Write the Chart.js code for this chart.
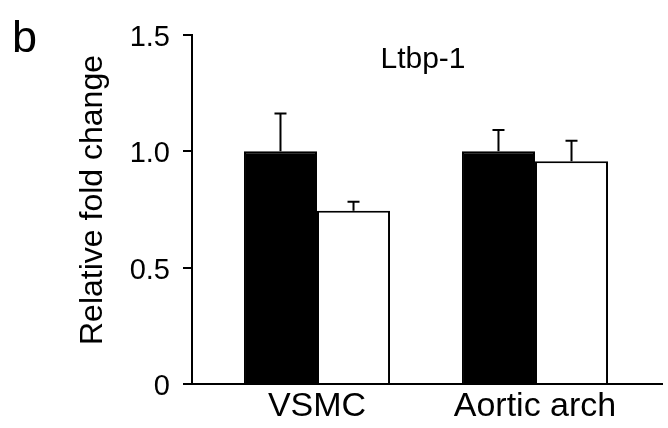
<!DOCTYPE html>
<html>
<head>
<meta charset="utf-8">
<script src="https://cdn.jsdelivr.net/npm/chart.js@4/dist/chart.umd.min.js"></script>
<style>
  html, body { margin: 0; padding: 0; background: #fff; }
  #wrap { width: 668px; height: 428px; }
</style>
</head>
<body>
<div id="wrap"><canvas id="foldChart" width="668" height="428"></canvas></div>
<script>
"use strict";

// data
var categories = ['VSMC', 'Aortic arch'];
var controlMean = [1.0, 1.0];
var controlErr = [0.163, 0.092];
var treatedMean = [0.745, 0.957];
var treatedErr = [0.038, 0.089];
var yTicks = [0, 0.5, 1.0, 1.5];
var yTitle = 'Relative fold change';

var FONT = "'Liberation Sans', Arial, sans-serif";

function toPoints(values) {
    return values.map(function (v, i) {
        return { x: i + 1, y: v };
    });
}

// upward error bars, positioned from the bar elements and y scale
var errorBars = {
    id: 'errorBars',
    afterDatasetsDraw: function (chart) {
        var ctx = chart.ctx;
        var yScale = chart.scales.y;
        var errs = [controlErr, treatedErr];
        ctx.save();
        ctx.strokeStyle = '#000';
        ctx.lineWidth = 2;
        chart.data.datasets.forEach(function (ds, di) {
            var meta = chart.getDatasetMeta(di);
            meta.data.forEach(function (bar, i) {
                var top = yScale.getPixelForValue(ds.data[i].y + errs[di][i]);
                ctx.beginPath();
                ctx.moveTo(bar.x, bar.y);
                ctx.lineTo(bar.x, top);
                ctx.moveTo(bar.x - 6, top);
                ctx.lineTo(bar.x + 6, top);
                ctx.stroke();
            });
        });
        ctx.restore();
    }
};

// panel letter, gene name and y-axis title
var labels = {
    id: 'labels',
    afterDraw: function (chart) {
        var ctx = chart.ctx;
        ctx.save();
        ctx.fillStyle = '#000';
        ctx.textBaseline = 'alphabetic';
        ctx.textAlign = 'left';
        ctx.font = '45px ' + FONT;
        ctx.fillText('b', 12, 52);
        ctx.textAlign = 'center';
        ctx.font = '30px ' + FONT;
        ctx.fillText('Ltbp-1', 423, 68);

        ctx.translate(93, 200);
        ctx.rotate(-Math.PI / 2);
        ctx.textBaseline = 'middle';
        ctx.font = '32px ' + FONT;
        ctx.fillText(yTitle, 0, 0);
        ctx.restore();
    }
};

var foldChart = new Chart(document.getElementById('foldChart'), {
    type: 'bar',
    data: {
        datasets: [{
            label: 'control',
            data: toPoints(controlMean),
            backgroundColor: '#000',
            borderColor: '#000',
            borderWidth: 2,
            barPercentage: 1.0,
            categoryPercentage: 0.67
        }, {
            label: 'treated',
            data: toPoints(treatedMean),
            backgroundColor: '#fff',
            borderColor: '#000',
            borderWidth: 2,
            barPercentage: 1.0,
            categoryPercentage: 0.67
        }]
    },
    options: {
        responsive: false,
        animation: false,
        devicePixelRatio: 1,
        layout: { padding: { top: 35, right: 6, left: 0, bottom: 0 } },
        plugins: {
            legend: { display: false },
            tooltip: { enabled: false }
        },
        scales: {
            x: {
                type: 'linear',
                offset: false,
                bounds: 'data',
                min: 0.4266,
                max: 2.5826,
                grid: { display: false, drawTicks: false, offset: false },
                border: { display: true, color: '#000', width: 2 },
                afterBuildTicks: function (scale) {
                    scale.ticks = categories.map(function (c, i) { return { value: i + 1 }; });
                },
                ticks: {
                    color: '#000',
                    padding: 2,
                    maxRotation: 0,
                    autoSkip: false,
                    font: { family: FONT, size: 34 },
                    callback: function (v) { return categories[v - 1]; }
                },
                afterFit: function (scale) { scale.height = 44; }
            },
            y: {
                min: 0,
                max: 1.5,
                afterBuildTicks: function (scale) {
                    scale.ticks = yTicks.map(function (v) { return { value: v }; });
                },
                grid: {
                    drawOnChartArea: false,
                    drawTicks: true,
                    tickLength: 9,
                    color: '#000',
                    lineWidth: 2
                },
                border: { display: true, color: '#000', width: 2 },
                ticks: {
                    color: '#000',
                    padding: 13,
                    labelOffset: 3,
                    font: { family: FONT, size: 29 },
                    callback: function (v) { return v === 0 ? '0' : v.toFixed(1); }
                },
                afterFit: function (scale) { scale.width = 192; }
            }
        }
    },
    plugins: [errorBars, labels]
});
</script>
</body>
</html>
